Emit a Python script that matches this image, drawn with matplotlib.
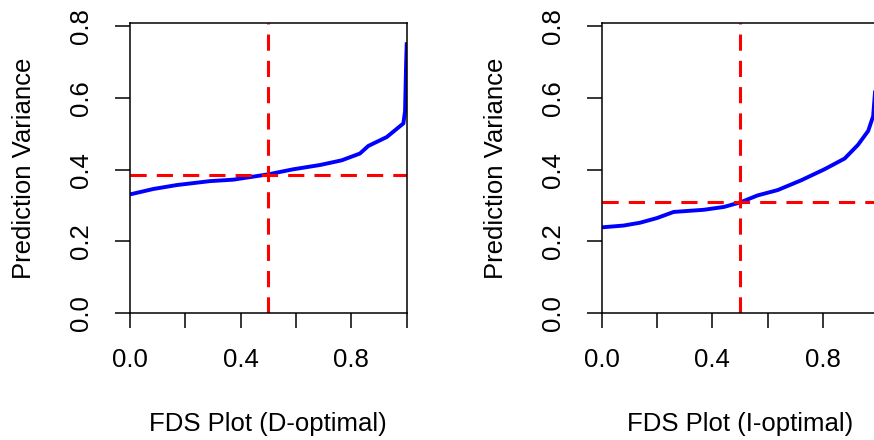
import matplotlib.pyplot as plt

plt.rcParams['font.family'] = ['Liberation Sans', 'DejaVu Sans']

# FDS curves (fraction of design space, prediction variance)
d_frac = [0.0, 0.006, 0.084, 0.169, 0.289, 0.373, 0.5, 0.59, 0.687, 0.765, 0.831, 0.861,
          0.928, 0.988, 0.994, 0.998, 1.0]
d_var = [0.331, 0.332, 0.346, 0.357, 0.368, 0.372, 0.387, 0.401, 0.413, 0.426, 0.445, 0.466,
         0.491, 0.529, 0.563, 0.70, 0.75]
i_frac = [0.0, 0.079, 0.139, 0.2, 0.26, 0.369, 0.442, 0.502, 0.563, 0.636, 0.72, 0.805,
          0.878, 0.926, 0.963, 0.981, 0.989, 1.0]
i_var = [0.239, 0.244, 0.252, 0.265, 0.282, 0.288, 0.296, 0.309, 0.328, 0.343, 0.370, 0.401,
         0.431, 0.469, 0.508, 0.549, 0.628, 0.72]

# median lines
d_median = 0.386
i_median = 0.309

panels = [
    (d_frac, d_var, d_median, 'FDS Plot (D-optimal)', [130 / 874, 0.2886, 276.7 / 874, 0.659]),
    (i_frac, i_var, i_median, 'FDS Plot (I-optimal)', [601.7 / 874, 0.2886, 276.7 / 874, 0.659]),
]

fig = plt.figure(figsize=(8.74, 4.4), dpi=100)

for frac, var, med, title, pos in panels:
    ax = fig.add_axes(pos)
    ax.plot(frac, var, color='blue', lw=2.8, solid_joinstyle='round')
    ax.axhline(med, color='red', lw=2.2, ls=(0, (5.3, 3.3)))
    ax.axvline(0.5, color='red', lw=2.2, ls=(0, (5.3, 3.3)))
    ax.set_xlim(0, 1)
    ax.set_ylim(0, 0.809)
    ax.set_xticks([0, 0.2, 0.4, 0.6, 0.8, 1.0])
    ax.set_xticklabels(['0.0', '', '0.4', '', '0.8', ''])
    ax.set_yticks([0, 0.2, 0.4, 0.6, 0.8])
    ax.set_yticklabels(['0.0', '0.2', '0.4', '0.6', '0.8'], rotation=90, va='center')
    ax.tick_params(direction='out', length=11, width=1.1, labelsize=18.5)
    ax.tick_params(axis='x', pad=14)
    ax.tick_params(axis='y', pad=15.5)
    for s in ax.spines.values():
        s.set_linewidth(1.1)
    ax.set_xlabel(title, fontsize=18.5, labelpad=29)
    ax.set_ylabel('Prediction Variance', fontsize=18.5, labelpad=24)

fig.savefig('out.png', dpi=100)
